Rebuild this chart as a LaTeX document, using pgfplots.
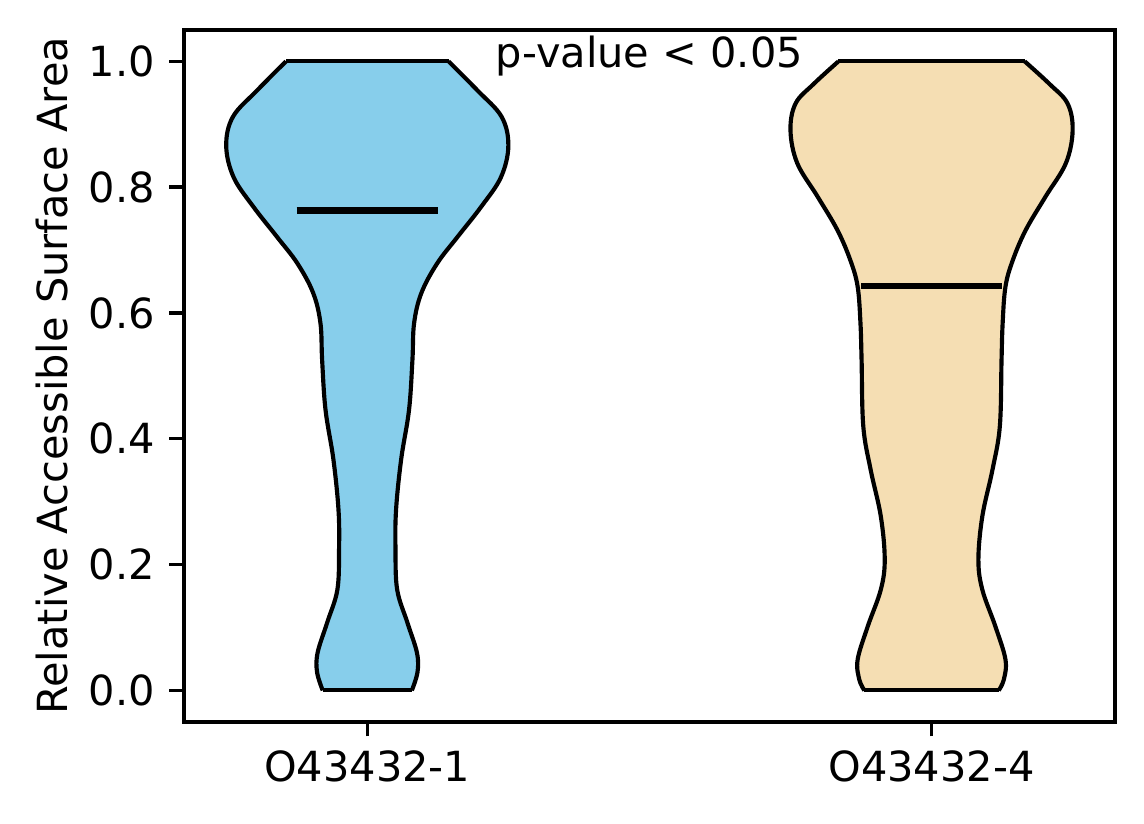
\documentclass[border=0pt]{standalone}
\usepackage{fontspec}
\setmainfont{DejaVu Sans}
\usepackage{pgfplots}
\pgfplotsset{compat=1.18}
\usepgfplotslibrary{fillbetween}
\definecolor{skyblue}{HTML}{87CEEB}
\definecolor{wheat}{HTML}{F5DEB3}
\begin{document}
\begin{tikzpicture}
\begin{axis}[
   scale only axis,
   width=224.3pt, height=166.7pt,
   xmin=0.675, xmax=2.325,
   ymin=-0.05, ymax=1.05,
   xtick={1,2},
   xticklabels={O43432-1,O43432-4},
   ytick={0,0.2,...,1.0},
   tick pos=left,
   tick align=outside,
   major tick length=3.5pt,
   axis line style={line width=0.8pt},
   every tick/.style={black, line width=0.8pt},
   tick label style={font=\fontsize{10}{12}\selectfont},
   label style={font=\fontsize{10}{12}\selectfont},
   /pgf/number format/assume math mode=true,
   y tick label style={/pgf/number format/.cd, fixed, fixed zerofill, precision=1},
   ylabel={Relative Accessible Surface Area},
   ylabel style={yshift=-2pt},
   clip=false,
   edge/.style={draw=black, line width=1pt, smooth, tension=0.6},
   flat/.style={black, line width=1pt},
]
% violin O43432-1: left edge (bottom to top), right edge (top to bottom)
\addplot[edge, name path=v1l] coordinates {
   (0.921,0.000) (0.911,0.029) (0.912,0.060) (0.929,0.108) (0.947,0.160)
   (0.950,0.224) (0.949,0.287) (0.940,0.367) (0.926,0.446) (0.920,0.525)
   (0.917,0.584) (0.904,0.632) (0.876,0.679) (0.840,0.721) (0.798,0.769)
   (0.763,0.816) (0.750,0.866) (0.762,0.912) (0.805,0.954) (0.856,1.000)
};
\addplot[edge, name path=v1r] coordinates {
   (1.144,1.000) (1.195,0.954) (1.238,0.912) (1.250,0.866) (1.237,0.816)
   (1.202,0.769) (1.160,0.721) (1.124,0.679) (1.096,0.632) (1.083,0.584)
   (1.080,0.525) (1.074,0.446) (1.060,0.367) (1.051,0.287) (1.050,0.224)
   (1.053,0.160) (1.071,0.108) (1.088,0.060) (1.089,0.029) (1.079,0.000)
};
\addplot[skyblue] fill between[of=v1l and v1r];
\addplot[flat] coordinates {(0.856,1.000) (1.144,1.000)};
\addplot[flat] coordinates {(0.921,0.000) (1.079,0.000)};
% violin O43432-4
\addplot[edge, name path=v2l] coordinates {
   (1.881,0.000) (1.872,0.017) (1.869,0.049) (1.887,0.102) (1.910,0.160)
   (1.917,0.208) (1.910,0.277) (1.892,0.351) (1.879,0.420) (1.876,0.525)
   (1.874,0.584) (1.869,0.642) (1.856,0.684) (1.833,0.732) (1.798,0.785)
   (1.762,0.838) (1.750,0.890) (1.759,0.933) (1.791,0.964) (1.835,1.000)
};
\addplot[edge, name path=v2r] coordinates {
   (2.165,1.000) (2.209,0.964) (2.241,0.933) (2.250,0.890) (2.238,0.838)
   (2.202,0.785) (2.167,0.732) (2.144,0.684) (2.131,0.642) (2.126,0.584)
   (2.124,0.525) (2.121,0.420) (2.108,0.351) (2.090,0.277) (2.083,0.208)
   (2.090,0.160) (2.113,0.102) (2.131,0.049) (2.128,0.017) (2.119,0.000)
};
\addplot[wheat] fill between[of=v2l and v2r];
\addplot[flat] coordinates {(1.835,1.000) (2.165,1.000)};
\addplot[flat] coordinates {(1.881,0.000) (2.119,0.000)};
% medians
\addplot[black, line width=1.5pt] coordinates {(0.875,0.763) (1.125,0.763)};
\addplot[black, line width=1.5pt] coordinates {(1.875,0.643) (2.125,0.643)};
\node[anchor=base, font=\fontsize{10}{12}\selectfont] at (axis cs:1.5,0.99) {p-value < 0.05};
\end{axis}
\path (current axis.south west) ++(-44.3pt,-24.6pt) rectangle (current axis.north east) ++(7pt,7.2pt);
\end{tikzpicture}
\end{document}
